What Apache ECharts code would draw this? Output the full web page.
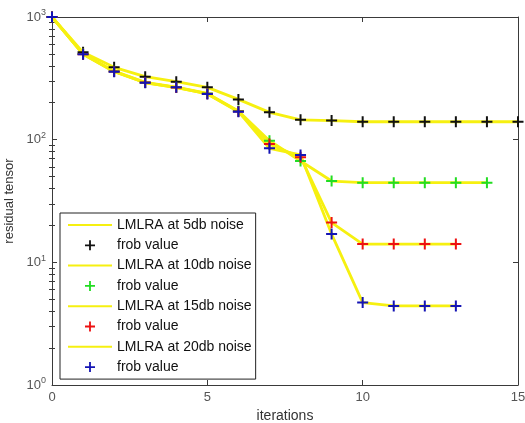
<!DOCTYPE html>
<html>
<head>
<meta charset="utf-8">
<script src="https://cdn.jsdelivr.net/npm/echarts@6/dist/echarts.min.js"></script>
<style>
  html, body { margin: 0; padding: 0; background: #fff; }
  #chart { width: 525px; height: 423px; }
</style>
</head>
<body>
<div id="chart"></div>
<script>
// iterations (x)
var iters = [0, 1, 2, 3, 4, 5, 6, 7, 8, 9, 10, 11, 12, 13, 14, 15]
// residual per noise level
var noise5 = [1000, 515, 389, 326, 297, 267, 213, 167, 145, 143, 140, 140, 140, 140, 140, 140]
var noise10 = [1000, 500, 362, 293, 268, 238, 171, 98, 67, 46, 44.6, 44.6, 44.6, 44.6, 44.6]
var noise15 = [1000, 498, 360, 292, 266, 237, 170, 92, 72, 21.1, 14.1, 14.1, 14.1, 14.1]
var noise20 = [1000, 497, 358, 291, 267, 236, 169, 85, 75, 17.0, 4.7, 4.41, 4.41, 4.41]
// ticks
var yMajor = [1, 10, 100, 1000]
var yMinor = [2, 3, 4, 5, 6, 7, 8, 9, 20, 30, 40, 50, 60, 70, 80, 90, 200, 300, 400, 500, 600, 700, 800, 900]

var lineNames = ['LMLRA at 5db noise', 'LMLRA at 10db noise', 'LMLRA at 15db noise', 'LMLRA at 20db noise']
// 同名图例会合并，用尾随空格区分
var frobNames = ['frob value', 'frob value ', 'frob value  ', 'frob value   ']
var markColors = ['#111111', '#22dd22', '#ee1111', '#1414b4']
var allData = [noise5, noise10, noise15, noise20]

var plus = 'path://M4.5,0H6.5V4.5H11V6.5H6.5V11H4.5V6.5H0V4.5H4.5Z'
var lineIcon = 'path://M0,0H22V1H0Z'
var yellow = '#f6f010'
var axisColor = '#3a3a3a'
var font = 'Liberation Sans'

function pairs(vals) {
  return vals.map(function (v, i) { return [iters[i], v] })
}

var series = []
var legendData = []
for (var i = 0; i < 4; i++) {
  series.push({
    name: lineNames[i],
    type: 'line',
    data: pairs(allData[i]),
    symbol: 'none',
    lineStyle: { color: yellow, width: 2.8 },
    itemStyle: { color: yellow }
  })
  series.push({
    name: frobNames[i],
    type: 'scatter',
    z: 3,
    data: pairs(allData[i]),
    symbol: plus,
    symbolSize: 11,
    itemStyle: { color: markColors[i], opacity: 1 }
  })
  legendData.push({ name: lineNames[i], icon: lineIcon })
  legendData.push({ name: frobNames[i] })
}

var myChart = echarts.init(document.getElementById('chart'))
var option = {
  animation: false,
  grid: { left: 52, right: 7, top: 17, bottom: 38, outerBoundsMode: 'none', containLabel: false },
  legend: {
    orient: 'vertical',
    left: 60,
    top: 213,
    data: legendData,
    itemWidth: 44,
    itemHeight: 10,
    itemGap: 6.3,
    padding: [5, 4, 5, 8],
    backgroundColor: '#fff',
    borderColor: '#222',
    borderWidth: 1,
    borderRadius: 0,
    selectedMode: false,
    formatter: function (name) { return name.trim() },
    textStyle: { fontFamily: font, fontSize: 14, lineHeight: 14, color: '#111' }
  },
  xAxis: [
    {
      type: 'value',
      min: 0,
      max: 15,
      interval: 5,
      name: 'iterations',
      nameLocation: 'middle',
      nameGap: 22,
      nameTextStyle: { fontFamily: font, fontSize: 14, color: '#333' },
      axisLine: { onZero: false, lineStyle: { color: axisColor } },
      axisTick: { inside: true, length: 5, lineStyle: { color: axisColor } },
      axisLabel: { margin: 6, fontFamily: font, fontSize: 13, color: '#555' },
      splitLine: { show: false }
    },
    {
      type: 'value',
      position: 'top',
      min: 0,
      max: 15,
      interval: 5,
      axisLine: { onZero: false, lineStyle: { color: axisColor } },
      axisTick: { inside: true, length: 5, lineStyle: { color: axisColor } },
      axisLabel: { show: false },
      splitLine: { show: false }
    }
  ],
  yAxis: [
    {
      type: 'log',
      min: 1,
      max: 1000,
      name: 'residual tensor',
      nameLocation: 'middle',
      nameGap: 32,
      nameTextStyle: { fontFamily: font, fontSize: 13, color: '#333' },
      axisLine: { onZero: false, lineStyle: { color: axisColor } },
      axisTick: { inside: true, length: 5, customValues: yMajor, lineStyle: { color: axisColor } },
      axisLabel: {
        margin: 6,
        customValues: yMajor,
        formatter: function (v) {
          return '{b|10}{s|' + Math.round(Math.log10(v)) + '}'
        },
        rich: {
          b: { fontFamily: font, fontSize: 13, color: '#555' },
          s: { fontFamily: font, fontSize: 9, color: '#555', verticalAlign: 'bottom', padding: [0, 0, 8, 0] }
        }
      },
      splitLine: { show: false }
    },
    {
      type: 'log',
      min: 1,
      max: 1000,
      position: 'right',
      axisLine: { onZero: false, lineStyle: { color: axisColor } },
      axisTick: { inside: true, length: 5, customValues: yMajor, lineStyle: { color: axisColor } },
      axisLabel: { show: false },
      splitLine: { show: false }
    },
    {
      type: 'log',
      min: 1,
      max: 1000,
      position: 'left',
      axisLine: { show: false },
      axisTick: { inside: true, length: 3, customValues: yMinor, lineStyle: { color: axisColor } },
      axisLabel: { show: false },
      splitLine: { show: false }
    },
    {
      type: 'log',
      min: 1,
      max: 1000,
      position: 'right',
      axisLine: { show: false },
      axisTick: { inside: true, length: 3, customValues: yMinor, lineStyle: { color: axisColor } },
      axisLabel: { show: false },
      splitLine: { show: false }
    }
  ],
  series: series
}

myChart.setOption(option)
window.addEventListener('resize', function () {
  myChart.resize()
})
</script>
</body>
</html>
